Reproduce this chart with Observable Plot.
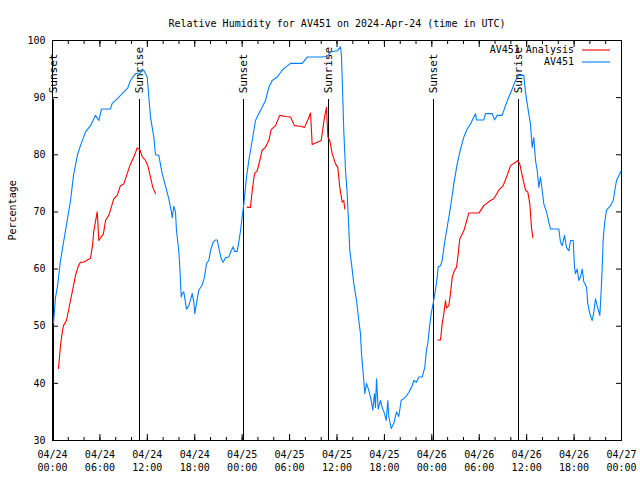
<!DOCTYPE html>
<html><head><meta charset="utf-8">
<script src="https://cdn.jsdelivr.net/npm/d3@7"></script>
<script src="https://cdn.jsdelivr.net/npm/@observablehq/plot@0.6"></script>
<style>body{margin:0;background:#fff} svg{display:block}</style>
</head><body><div id="chart"></div>
<script>
const titleText = "Relative Humidity for AV451 on 2024-Apr-24 (time in UTC)";
const yLabel = "Percentage";
const startTime = "2024-04-24T00:00:00Z";
const endTime = "2024-04-27T00:00:00Z";
const yTicks = [30, 40, 50, 60, 70, 80, 90, 100];
const seriesNames = ["AV451 Analysis", "AV451"];
const seriesColors = ["#ff0000", "#0080ff"];

// hours since 04/24 00:00 UTC
const blueHours = [0.13,0.38,0.63,1.01,1.64,2.28,2.66,3.16,3.54,4.18,4.81,5.44,5.86,6.2,7.34,7.55,8.19,8.82,9.53,9.87,10.5,11.14,11.35,11.55,11.98,12.19,12.4,12.82,13.03,13.45,13.88,14.3,14.72,15.02,15.15,15.35,15.56,15.69,15.98,16.11,16.29,16.41,16.61,16.96,17.25,17.68,17.88,18.01,18.22,18.51,18.94,19.23,19.49,19.78,19.99,20.33,20.63,20.84,21.04,21.35,21.6,21.89,22.31,22.61,22.87,23.03,23.37,23.57,23.79,24.0,24.21,24.55,24.84,25.27,25.69,26.1,26.53,26.95,27.37,27.8,28.43,29.07,29.48,30.12,31.6,32.23,33.91,34.76,35.18,36.02,36.44,36.57,36.73,36.86,37.08,37.29,37.49,37.62,37.83,38.13,38.47,38.76,38.97,39.1,39.32,39.52,39.73,40.02,40.33,40.53,40.74,40.87,41.0,41.21,41.5,41.72,42.01,42.23,42.43,42.55,42.86,43.19,43.53,43.82,44.12,44.67,45.09,45.52,45.72,46.06,46.35,46.78,47.11,47.32,47.49,47.7,47.92,48.17,48.46,48.68,48.81,49.1,49.31,49.6,49.94,50.36,50.78,51.21,51.63,52.05,52.47,52.89,53.52,53.65,54.58,54.79,55.64,55.93,56.27,56.9,57.32,57.74,58.17,58.59,59.0,59.64,59.85,60.14,60.48,60.7,60.9,61.12,61.34,61.54,61.75,61.97,62.17,62.51,62.8,63.02,64.07,64.28,64.5,64.79,65.04,65.33,65.55,65.89,66.05,66.18,66.39,66.6,66.81,67.03,67.23,67.57,67.73,67.99,68.29,68.5,68.71,68.93,69.13,69.26,69.43,69.56,69.68,69.85,70.1,70.61,70.95,71.15,71.37,72.0];
const blueValues = [50.6,55,57,61.5,66.7,72,76.4,80,81.6,84,85.1,86.9,86,88,88,89,89.8,90.7,91.7,93,94.2,94.3,95,94.8,93.6,90.1,86.6,83.1,80,79.9,76.7,74.5,72.3,70.2,69,71,70,66.7,63.2,60.3,55.1,55.7,56,53,53.6,55.7,54.2,52.2,54,56.3,57.2,58.6,61,61.5,63.2,64.7,65.1,65.1,63.8,61.8,61.2,62,62.1,63.2,63.9,63.1,63.1,64.7,66.7,69.1,71.4,76.1,79,82.5,86,87.2,88.3,89.5,91.8,93,93.6,94.8,95.3,96,96,97.1,97.1,97.2,98,98.2,98.9,97.2,90.1,84.2,77.2,73.2,67.3,63.2,61,57.4,54.5,51,48.7,45.2,41.7,38.2,40,38.8,37,35.3,38.2,35.8,40.8,35.5,37,35.8,34.7,33.5,37,34.2,32.1,33,35,34.2,37,37.6,38.4,39.6,40.5,40.2,41.1,41.1,42.8,45.8,47,49.8,52.2,54,56.3,58.6,60.4,60.6,61.5,64.5,67.3,70.8,74.9,78.4,81,83.1,84.5,85.4,87.2,86.1,86.1,87.2,87.2,86.1,86.9,86.9,88.6,90.1,91.5,93,93.9,93.9,91,88.3,85.4,81.3,83,79,77.2,74.3,76.1,73.7,71.4,70,68.2,67,67,64.7,64.1,65.9,63.8,63.2,65,65,60.3,59.2,60,58,58.6,60,57.8,56.9,54,52.2,51,52.5,54.8,53.5,52.5,51.9,56.3,60.3,65,67.9,70.3,71.1,72,73.7,75.5,77.3];

const redHours = [0.76,1.01,1.27,1.39,1.77,2.28,2.66,2.91,3.29,3.54,3.92,4.81,5.06,5.23,5.66,5.73,5.86,6.45,6.71,7.12,7.76,8.19,8.6,9.02,9.45,9.87,10.29,10.72,11.05,11.35,11.77,12.06,12.4,12.69,13.03,
  24.64,25.05,25.27,25.56,25.9,26.23,26.53,26.95,27.37,27.67,28.22,28.76,29.48,30.12,30.62,31.38,31.89,32.31,32.65,32.86,33.49,34.0,34.42,34.67,34.84,35.09,35.39,35.81,36.1,36.35,36.66,36.86,36.99,
  48.75,49.1,49.31,49.52,49.73,49.86,50.15,50.36,50.58,50.87,51.12,51.29,51.54,52.05,52.68,53.95,54.58,55.42,55.84,56.47,57.03,57.45,57.95,58.59,58.88,59.13,59.43,59.85,60.14,60.4,60.61,60.78];
const redValues = [42.6,46.6,49.3,50.1,51,54.5,57.1,58.9,60.6,61.2,61.2,61.9,64.1,66.7,70,68.5,65,66.2,68.5,69.4,72.3,72.9,74.6,74.9,76.7,78.4,79.6,81.2,80.9,79.7,79,78.1,76.1,74.3,73.2,
  70.8,70.8,73.7,76.7,77.2,79,80.8,81.3,82.5,84.4,85.1,86.9,86.7,86.6,85.1,85,84.8,86.1,87.3,81.8,82.2,82.5,86.6,88.3,83.1,82.5,80.2,78.4,77.8,74.3,71.7,72,70.5,
  47.6,47.6,50.4,52.2,54.5,53.2,53.6,55.7,58.6,59.8,60.3,62.1,65.3,66.7,69.8,69.8,71.1,72,72.3,73.8,74.6,76.1,78.1,78.7,79,78.4,76.4,73.8,73.5,71.4,67.3,65.5];
const redSegments = [...Array(35).fill(1), ...Array(33).fill(2), ...Array(32).fill(3)];

const sunHours = [0.1, 11.0, 24.15, 34.9, 48.2, 59.0];
const sunLabels = ["Sunset", "Sunrise", "Sunset", "Sunrise", "Sunset", "Sunrise"];
const sunLineTop = 89.7;

const t0 = new Date(startTime).getTime();
const toDate = h => new Date(t0 + h * 3600e3);
const blue = blueHours.map((h, i) => ({t: toDate(h), v: blueValues[i]}));
const red = redHours.map((h, i) => ({t: toDate(h), v: redValues[i], seg: redSegments[i]}));
const sun = sunHours.map((h, i) => ({t: toDate(h), label: sunLabels[i]}));
const xMajor = d3.utcHour.every(6).range(new Date(startTime), new Date(new Date(endTime).getTime() + 1));
const xMinor = d3.utcHour.every(2).range(new Date(startTime), new Date(new Date(endTime).getTime() + 1));
const fmt = d => d3.utcFormat("%m/%d")(d) + "\n" + d3.utcFormat("%H:%M")(d);

const chart = Plot.plot({
  width: 640, height: 480,
  marginLeft: 52, marginRight: 19, marginTop: 40, marginBottom: 40,
  style: {fontFamily: "'DejaVu Sans Mono', monospace", fontSize: "10px", background: "#fff", color: "#000"},
  x: {type: "utc", domain: [new Date(startTime), new Date(endTime)]},
  y: {domain: [30, 100]},
  marks: [
    Plot.ruleX(sun, {x: "t", y1: 30, y2: sunLineTop, stroke: "#000", strokeWidth: 1, shapeRendering: "crispEdges"}),
    Plot.text(sun, {x: "t", y: sunLineTop, text: "label", rotate: -90, textAnchor: "start", dy: -6, fill: "#000", fontSize: 11}),
    Plot.line(blue, {x: "t", y: "v", stroke: seriesColors[1], strokeWidth: 1.1}),
    Plot.line(red, {x: "t", y: "v", z: "seg", stroke: seriesColors[0], strokeWidth: 1.1}),
    Plot.frame({stroke: "#000", strokeWidth: 1, shapeRendering: "crispEdges"}),
    // inward ticks
    Plot.axisY({ticks: yTicks, text: null, tickSize: -6, anchor: "left", label: null}),
    Plot.axisY({ticks: yTicks, text: null, tickSize: -6, anchor: "right", label: null}),
    Plot.axisY({ticks: yTicks, tickSize: 0, tickPadding: 7, anchor: "left", label: null}),
    Plot.axisX({ticks: xMajor, text: null, tickSize: -6, anchor: "bottom", label: null}),
    Plot.axisX({ticks: xMajor, text: null, tickSize: -6, anchor: "top", label: null}),
    Plot.axisX({ticks: xMinor, text: null, tickSize: -3, anchor: "bottom", label: null}),
    Plot.axisX({ticks: xMinor, text: null, tickSize: -3, anchor: "top", label: null}),
    Plot.axisX({ticks: xMajor, tickSize: 0, tickPadding: 8, tickFormat: fmt, lineHeight: 1.3, anchor: "bottom", label: null}),
    Plot.text([titleText], {frameAnchor: "top", dy: -21, text: d => d, fill: "#000"}),
    Plot.text([yLabel], {frameAnchor: "left", dx: -40, rotate: -90, text: d => d, fill: "#000"})
  ]
});

// legend (key) in the top-right corner, gnuplot style
const svg = d3.select(chart);
seriesNames.forEach((name, i) => {
  const y = 50 + i * 12;
  svg.append("text").attr("x", 574).attr("y", y).attr("dy", "0.32em").attr("text-anchor", "end")
    .attr("fill", "#000").style("font-family", "'DejaVu Sans Mono', monospace").style("font-size", "10px").text(name);
  svg.append("line").attr("x1", 582).attr("x2", 610).attr("y1", y).attr("y2", y)
    .attr("stroke", seriesColors[i]).attr("stroke-width", 1.1);
});
document.getElementById("chart").appendChild(chart);
</script>
</body></html>
